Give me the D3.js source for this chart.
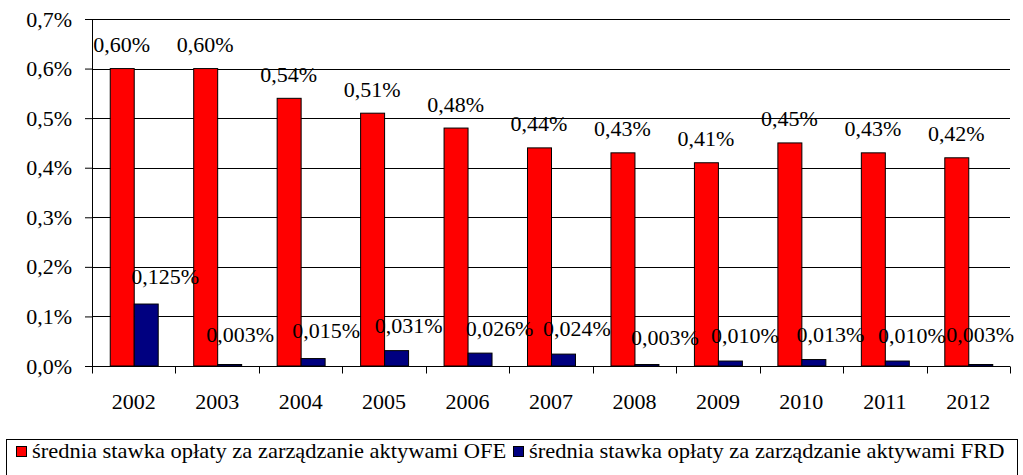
<!DOCTYPE html>
<html lang="pl">
  <head>
    <meta charset="utf-8">
    <title>Stawki opłat OFE i FRD</title>
    <script src="https://d3js.org/d3.v7.min.js"></script>
    <style>
      body { margin: 0; background: #fff; }
      svg text { font-family: "Liberation Serif", "DejaVu Serif", serif; font-size: 20px; fill: #000; }
      .domain { stroke: #000; }
    </style>
  </head>
  <body>
    <script>
      // data
      var years = ["2002", "2003", "2004", "2005", "2006", "2007", "2008", "2009", "2010", "2011", "2012"];
      var ofe = [0.60, 0.60, 0.54, 0.51, 0.48, 0.44, 0.43, 0.41, 0.45, 0.43, 0.42];
      var frd = [0.125, 0.003, 0.015, 0.031, 0.026, 0.024, 0.003, 0.010, 0.013, 0.010, 0.003];
      var ofeLabels = ["0,60%", "0,60%", "0,54%", "0,51%", "0,48%", "0,44%", "0,43%", "0,41%", "0,45%", "0,43%", "0,42%"];
      var frdLabels = ["0,125%", "0,003%", "0,015%", "0,031%", "0,026%", "0,024%", "0,003%", "0,010%", "0,013%", "0,010%", "0,003%"];
      var yTicks = [0, 0.1, 0.2, 0.3, 0.4, 0.5, 0.6, 0.7];
      var yTickLabels = ["0,0%", "0,1%", "0,2%", "0,3%", "0,4%", "0,5%", "0,6%", "0,7%"];
      var seriesNames = ["średnia stawka opłaty za zarządzanie aktywami OFE",
                         "średnia stawka opłaty za zarządzanie aktywami FRD"];
      var colors = ["#ff0000", "#000080"];

      // hand placed FRD label nudges (px, relative to bar centre / bar top)
      var frdLabelDx = [19.5, 11, 13.5, 12.5, 20, 14, 18.5, 15, 17, 15, 0];
      var frdLabelDy = [-20, -23, -20.5, -17.5, -17, -18, -19.5, -18, -18, -18, -23];

      var W = 1023, H = 475;
      var plotLeft = 92, plotRight = 1010, plotTop = 19, plotBottom = 366;
      var sx = 1.1; // the source font is slightly wide

      var svg = d3.select("body").append("svg")
        .attr("width", W)
        .attr("height", H)
        .attr("font-family", "Liberation Serif, serif");

      var x = d3.scaleBand().domain(years).range([plotLeft, plotRight]);
      var x1 = d3.scaleBand().domain(["OFE", "FRD"]).range([0, x.bandwidth()]).paddingOuter(0.74);
      var y = d3.scaleLinear().domain([0, 0.7]).range([plotBottom, plotTop]);

      function place(sel, px, py, s) {
        return sel.attr("transform", function(d, i) {
          return "translate(" + px(d, i) + "," + py(d, i) + ") scale(" + (s || sx) + ",1)";
        });
      }

      // grid
      svg.append("g")
        .selectAll("line")
        .data(yTicks.slice(1))
        .enter().append("line")
        .attr("x1", plotLeft).attr("x2", plotRight)
        .attr("y1", function(d) { return Math.round(y(d)) + 0.5; })
        .attr("y2", function(d) { return Math.round(y(d)) + 0.5; })
        .attr("stroke", "#000");

      // y axis
      var yAxis = svg.append("g")
        .attr("transform", "translate(" + plotLeft + ",0)")
        .call(d3.axisLeft(y).tickValues(yTicks).tickSize(7).tickSizeOuter(0)
          .tickFormat(function(d, i) { return yTickLabels[i]; }));
      yAxis.selectAll("text")
        .attr("x", 0).attr("dy", 0)
        .attr("transform", "translate(-20,7) scale(" + sx + ",1)");
      yAxis.attr("font-family", null).attr("font-size", null);

      // bars
      var groups = svg.append("g").selectAll("g")
        .data(years)
        .enter().append("g")
        .attr("transform", function(d) { return "translate(" + x(d) + ",0)"; });

      groups.append("rect")
        .attr("x", x1("OFE") + 0.5)
        .attr("y", function(d, i) { return y(ofe[i]); })
        .attr("width", x1.bandwidth())
        .attr("height", function(d, i) { return y(0) - y(ofe[i]); })
        .attr("fill", colors[0])
        .attr("stroke", "#000");

      groups.append("rect")
        .attr("x", x1("FRD") + 0.5)
        .attr("y", function(d, i) { return y(frd[i]); })
        .attr("width", x1.bandwidth())
        .attr("height", function(d, i) { return y(0) - y(frd[i]); })
        .attr("fill", colors[1])
        .attr("stroke", "#000");

      // x axis with ticks between categories
      var xAxis = svg.append("g")
        .attr("transform", "translate(0," + (plotBottom + 0.5) + ")");
      xAxis.append("line")
        .attr("x1", plotLeft).attr("x2", plotRight)
        .attr("stroke", "#000");
      xAxis.selectAll(".bound")
        .data(years.concat(["end"]))
        .enter().append("line")
        .attr("class", "bound")
        .attr("x1", function(d, i) { return Math.round(plotLeft + i * x.step()) + 0.5; })
        .attr("x2", function(d, i) { return Math.round(plotLeft + i * x.step()) + 0.5; })
        .attr("y1", 0).attr("y2", 7)
        .attr("stroke", "#000");
      place(xAxis.selectAll(".yr")
        .data(years)
        .enter().append("text")
        .attr("class", "yr")
        .attr("text-anchor", "middle")
        .text(function(d) { return d; }),
        function(d) { return x(d) + x.bandwidth() / 2; },
        function() { return 42; });

      // y axis line on top of bars
      svg.append("line")
        .attr("x1", plotLeft + 0.5).attr("x2", plotLeft + 0.5)
        .attr("y1", plotTop).attr("y2", plotBottom + 1)
        .attr("stroke", "#000");

      // value labels
      place(svg.append("g").selectAll("text")
        .data(years)
        .enter().append("text")
        .attr("text-anchor", "middle")
        .text(function(d, i) { return ofeLabels[i]; }),
        function(d) { return x(d) + x1("OFE") + x1.bandwidth() / 2; },
        function(d, i) { return y(ofe[i]) - 16.5; });

      place(svg.append("g").selectAll("text")
        .data(years)
        .enter().append("text")
        .attr("text-anchor", "middle")
        .text(function(d, i) { return frdLabels[i]; }),
        function(d, i) { return x(d) + x1("FRD") + x1.bandwidth() / 2 + frdLabelDx[i]; },
        function(d, i) { return y(frd[i]) + frdLabelDy[i]; });

      // legend
      var legend = svg.append("g");
      legend.append("rect")
        .attr("x", 6.5).attr("y", 439.5)
        .attr("width", 1011).attr("height", 45)
        .attr("fill", "#fff")
        .attr("stroke", "#000");
      var legendX = [16.5, 513.5];
      var item = legend.selectAll(".item")
        .data(seriesNames)
        .enter().append("g")
        .attr("class", "item");
      item.append("rect")
        .attr("x", function(d, i) { return legendX[i]; })
        .attr("y", 446.5)
        .attr("width", 10).attr("height", 10)
        .attr("fill", function(d, i) { return colors[i]; })
        .attr("stroke", "#000");
      place(item.append("text").text(function(d) { return d; }),
        function(d, i) { return legendX[i] + 15.5; },
        function() { return 457.5; }, 1.125);
    </script>
  </body>
</html>
